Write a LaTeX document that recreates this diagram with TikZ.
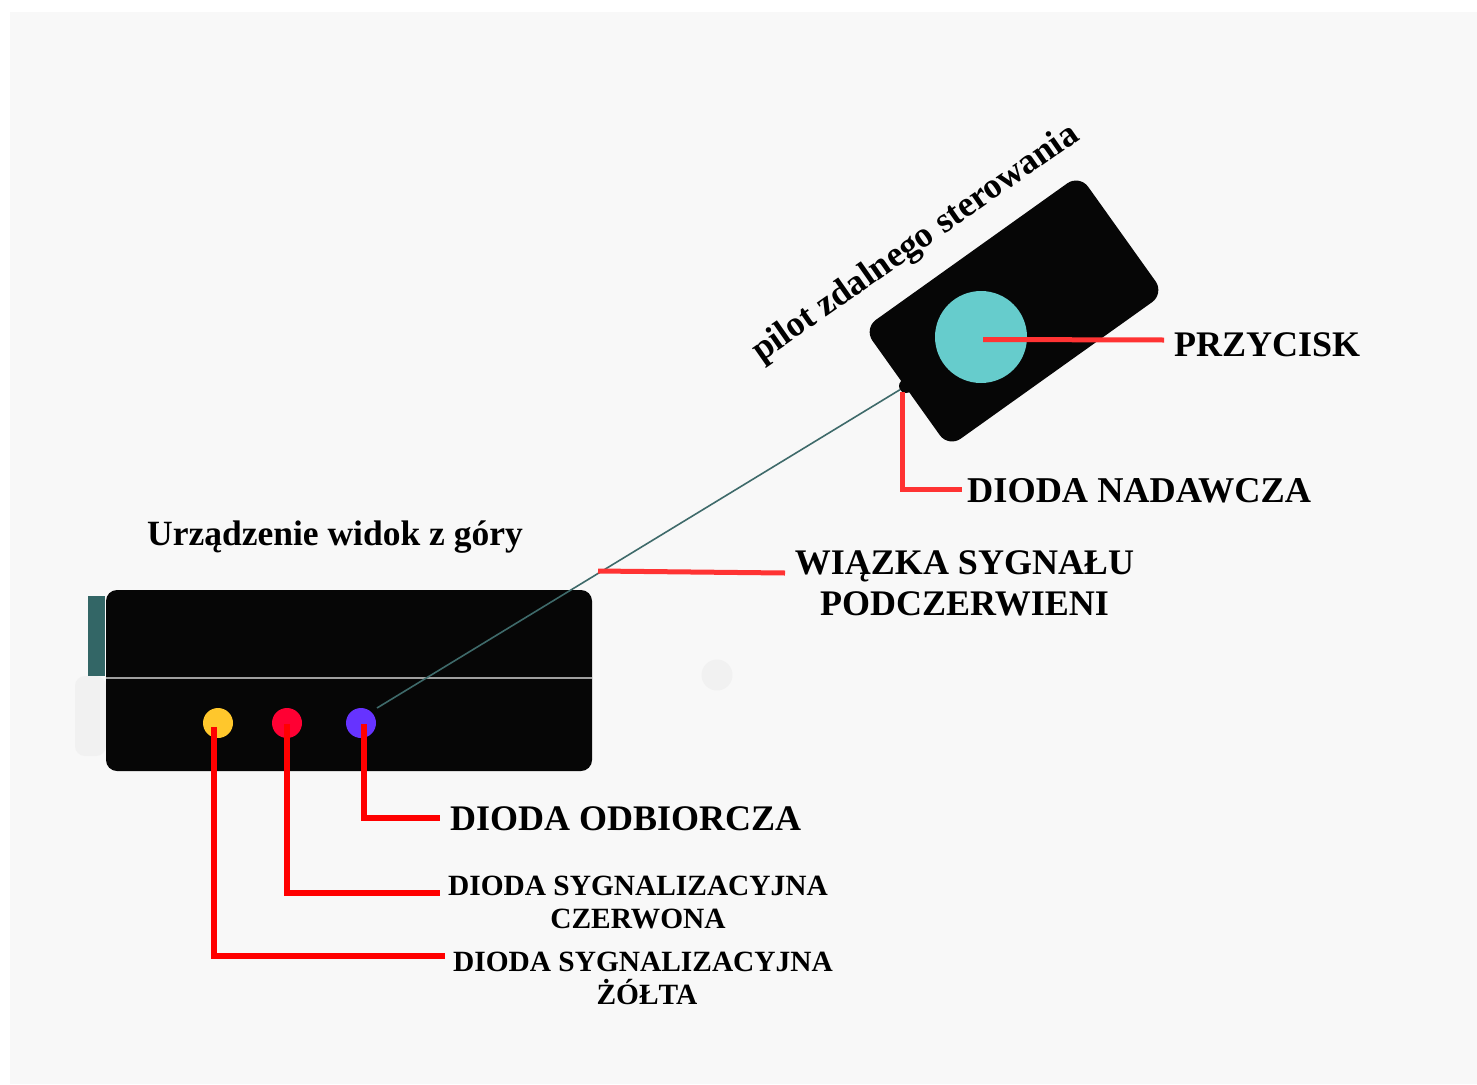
\documentclass[tikz,border=0pt]{standalone}
\usepackage{fontspec}
\setmainfont{Liberation Serif}
\definecolor{pagebg}{HTML}{F8F8F8}
\definecolor{bodyblack}{HTML}{060606}
\definecolor{ledyellow}{HTML}{FFC72C}
\definecolor{ledred}{HTML}{FF0033}
\definecolor{ledviolet}{HTML}{6633FF}
\definecolor{btnteal}{HTML}{66CCCC}
\definecolor{darkteal}{HTML}{336666}
\definecolor{softgrey}{HTML}{F1F1F1}
\definecolor{leadera}{HTML}{FF0000}
\definecolor{leaderb}{HTML}{FF3333}
\tikzset{
  led/.style={circle,minimum size=30pt,inner sep=0pt},
  leadhard/.style={draw=leadera,line width=6pt,line join=miter},
  leadsoft/.style={draw=leaderb,line width=5pt,line join=miter},
  lab/.style={inner sep=0pt,align=center,font=\bfseries\fontsize{#1}{#1}\selectfont},
  boxblack/.style={fill=bodyblack,rounded corners=11pt}
}
\begin{document}
\begin{tikzpicture}[x=1pt,y=-1pt]
\useasboundingbox (0,0) rectangle (1477,1084);
\fill[white] (0,0) rectangle (1477,1084);
\fill[pagebg] (10,12) rectangle (1477,1084);
% device
\fill[softgrey,rounded corners=10pt] (75,676) rectangle (106,756);
\node[fill=softgrey,circle,minimum size=31pt,inner sep=0pt] (blob) at (717,675) {};
\node[fill=darkteal,minimum width=17pt,minimum height=80pt,inner sep=0pt] (side) at (96.5,636) {};
\node[boxblack,minimum width=486pt,minimum height=181pt,inner sep=0pt] (device) at (349,680.5) {};
\draw[draw=gray!75,line width=1.3pt] (106,678) -- (592,678);
\node[led,fill=ledyellow] (ledY) at (218,723) {};
\node[led,fill=ledred] (ledR) at (287,723) {};
\node[led,fill=ledviolet] (ledV) at (361,723) {};
% remote
\node[boxblack,rotate=35.5,rounded corners=15pt,minimum width=265pt,minimum height=146pt,inner sep=0pt] (remote) at (1014,311) {};
\node[circle,fill=bodyblack,minimum size=14pt,inner sep=0pt] (txdiode) at (906,386) {};
\node[circle,fill=btnteal,minimum size=92pt,inner sep=0pt] (button) at (981,337) {};
% beam
\coordinate (beamA) at (377,708);
\draw[darkteal!85!gray,line width=1.6pt] (beamA) -- (txdiode);
% labels
\node[lab=36,anchor=west] (lPrzy) at (1174,345) {PRZYCISK};
\node[lab=36.3,anchor=west] (lNad) at (967,490.5) {DIODA NADAWCZA};
\node[lab=36,align=center] (lWiaz) at (964.5,583) {WIĄZKA SYGNAŁU\\[5pt]PODCZERWIENI};
\node[lab=36,anchor=west] (lOdb) at (450,819) {DIODA ODBIORCZA};
\node[lab=29.4,align=center] (lCzer) at (638,902) {DIODA SYGNALIZACYJNA\\[3.6pt]CZERWONA};
\node[lab=29.4,align=center] (lZol) at (643,978) {DIODA SYGNALIZACYJNA\\[3.6pt]\hspace*{8pt}ŻÓŁTA};
\node[lab=35.5] (lDev) at (335,537) {Urządzenie widok z góry};
\node[lab=35.9,rotate=35] (lPilot) at (916,244) {pilot zdalnego sterowania};
% leaders
\coordinate (endPrzy) at (1164,340);
\coordinate (endNad) at (962,489);
\coordinate (beamPt) at (598,571);
\coordinate (endWiaz) at (785,573);
\coordinate (endOdb) at (440,818);
\coordinate (endCzer) at (440,893);
\coordinate (endZol) at (445,956);
\draw[leadsoft] (983,339.5) -- (endPrzy);
\draw[leadsoft] (902,392) |- (endNad);
\draw[leadsoft] (beamPt) -- (endWiaz);
\draw[leadhard] (364,724) |- (endOdb);
\draw[leadhard] (286.5,724) |- (endCzer);
\draw[leadhard] (214,727) |- (endZol);
\end{tikzpicture}
\end{document}
